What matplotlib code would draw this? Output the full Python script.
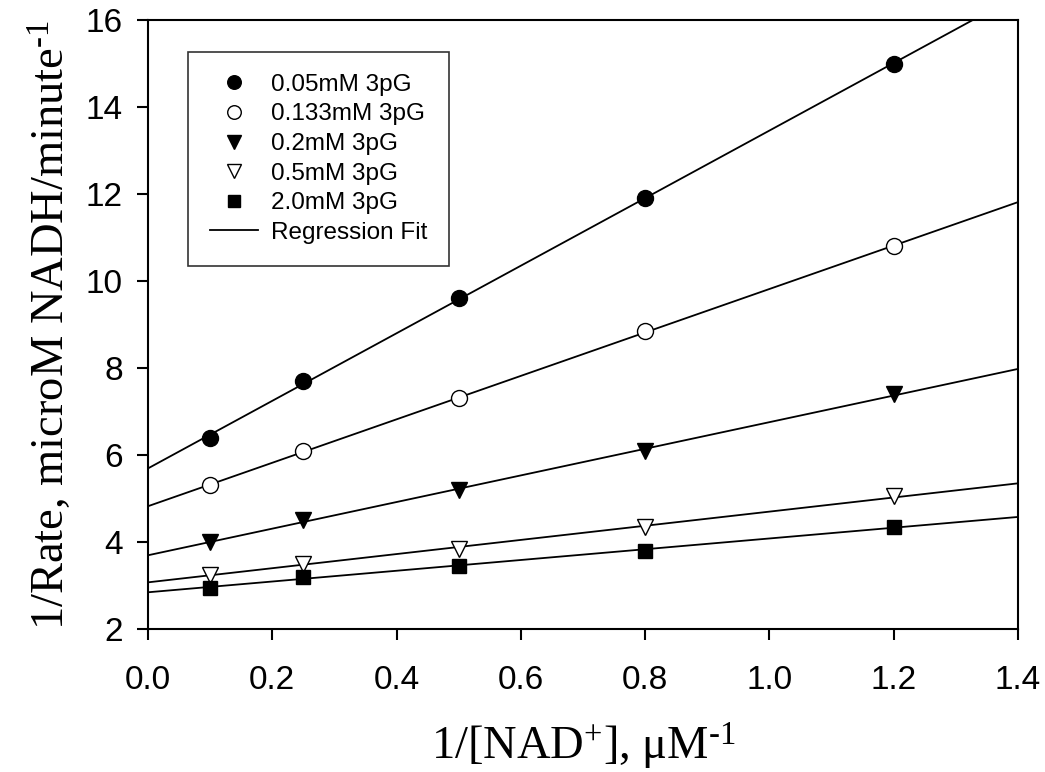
import numpy as np
import matplotlib
matplotlib.use("Agg")
import matplotlib.pyplot as plt

plt.rcParams['font.family'] = ['Liberation Sans', 'DejaVu Sans']
plt.rcParams['mathtext.fontset'] = 'custom'
plt.rcParams['mathtext.rm'] = 'Liberation Serif'
plt.rcParams['mathtext.it'] = 'Liberation Serif:italic'

# 1/[NAD+] values, uM^-1
inv_nad = [0.1, 0.25, 0.5, 0.8, 1.2]

# 1/rate for each 3pG concentration
rate_005 = [6.4, 7.7, 9.6, 11.9, 15.0]
rate_0133 = [5.3, 6.1, 7.3, 8.85, 10.8]
rate_02 = [4.0, 4.5, 5.2, 6.1, 7.4]
rate_05 = [3.25, 3.5, 3.85, 4.35, 5.05]
rate_20 = [2.95, 3.2, 3.45, 3.8, 4.35]

labels = ['0.05mM 3pG', '0.133mM 3pG', '0.2mM 3pG', '0.5mM 3pG', '2.0mM 3pG']
series = [rate_005, rate_0133, rate_02, rate_05, rate_20]
markers = ['o', 'o', 'v', 'v', 's']
sizes = [11.5, 11.5, 11.5, 11.5, 10.5]
faces = ['black', 'white', 'black', 'white', 'black']

fig = plt.figure(figsize=(10.45, 7.72), dpi=100)
ax = fig.add_axes([0.1416, 0.1852, 0.8326, 0.7888])

xfit = np.array([0.0, 1.4])
for ys, m, ms, fc, lab in zip(series, markers, sizes, faces, labels):
    slope, icpt = np.polyfit(inv_nad, ys, 1)
    ax.plot(xfit, slope * xfit + icpt, color='black', lw=1.3, zorder=2)
    ax.plot(inv_nad, ys, linestyle='none', marker=m, markersize=ms,
            markerfacecolor=fc, markeredgecolor='black', markeredgewidth=1.0,
            label=lab, zorder=3)
ax.plot([], [], color='black', lw=1.3, label='Regression Fit')

ax.set_xlim(0, 1.4)
ax.set_ylim(2, 16)
ax.set_xticks(np.arange(0, 1.41, 0.2))
ax.set_yticks(np.arange(2, 17, 2))
ax.set_xticklabels(['{:.1f}'.format(v) for v in np.arange(0, 1.41, 0.2)])
ax.tick_params(direction='out', length=8, width=1.5, labelsize=24)
ax.tick_params(axis='x', pad=18)
ax.tick_params(axis='y', pad=10)
for sp in ax.spines.values():
    sp.set_linewidth(1.5)

ax.set_xlabel(r'1/[NAD$^{+}$], μM$^{\text{-1}}$', family='Liberation Serif',
              fontsize=33.5, labelpad=18)
ax.set_ylabel(r'1/Rate, microM NADH/minute$^{\text{-1}}$',
              family='Liberation Serif', fontsize=33.5, labelpad=8)

leg = ax.legend(loc='upper left', bbox_to_anchor=(0.046, 0.9475), fontsize=17.5,
                frameon=True, fancybox=False, edgecolor='black',
                borderaxespad=0, handlelength=2.0, labelspacing=0.31,
                borderpad=0.9, markerscale=0.85, handletextpad=0.5)
leg.get_frame().set_linewidth(1.2)

fig.savefig('out.png', dpi=100)
